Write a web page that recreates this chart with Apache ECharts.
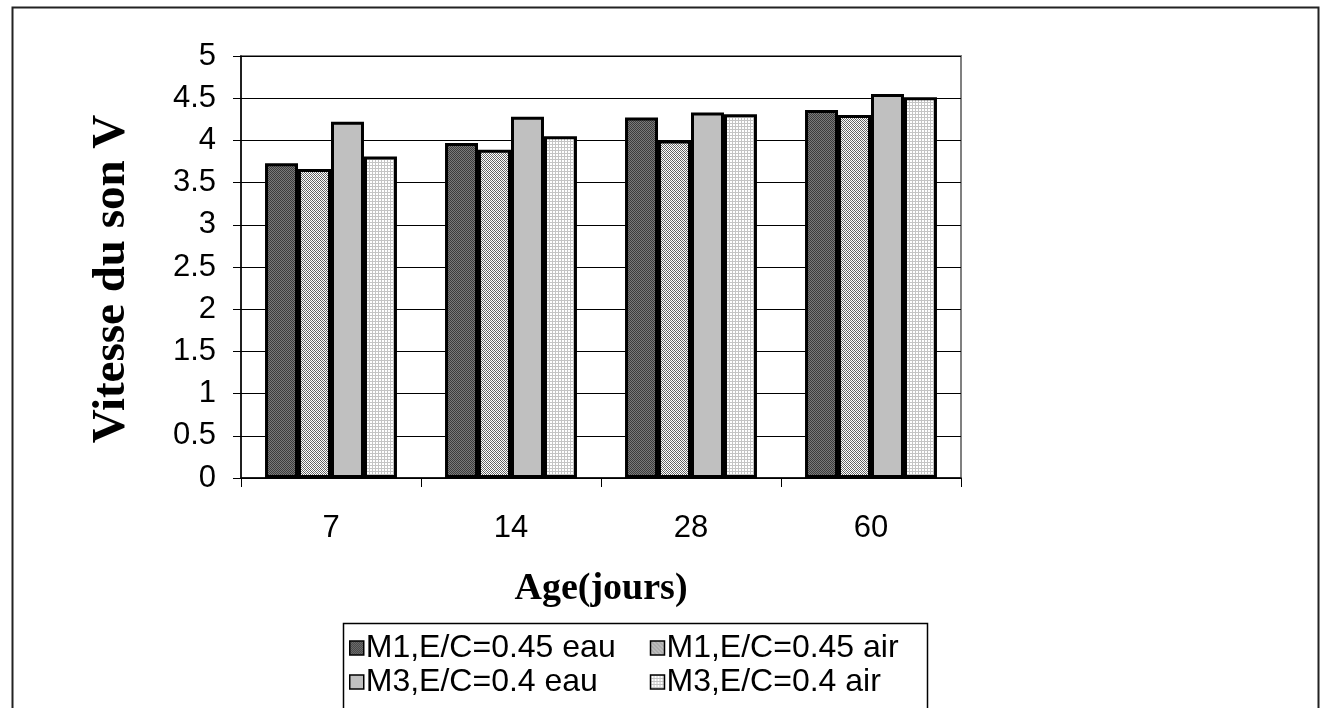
<!DOCTYPE html>
<html>
<head>
<meta charset="utf-8">
<script src="https://cdn.jsdelivr.net/npm/echarts@6/dist/echarts.min.js"></script>
<style>
html,body{margin:0;padding:0;background:#fff;}
#chart{width:1322px;height:708px;}
</style>
</head>
<body>
<div id="chart"></div>
<script>
const categories = ['7', '14', '28', '60'];
const seriesNames = ['M1,E/C=0.45 eau', 'M1,E/C=0.45 air', 'M3,E/C=0.4 eau', 'M3,E/C=0.4 air'];
const m1Eau = [3.73, 3.97, 4.27, 4.36];
const m1Air = [3.66, 3.89, 4.00, 4.30];
const m3Eau = [4.22, 4.28, 4.33, 4.55];
const m3Air = [3.81, 4.05, 4.31, 4.51];
const yTicks = { min: 0, max: 5, interval: 0.5 };

function makePattern(size, painter) {
  const c = document.createElement('canvas');
  c.width = size; c.height = size;
  const ctx = c.getContext('2d');
  painter(ctx, size);
  return { image: c, repeat: 'repeat' };
}
const patDark = makePattern(4, (ctx, s) => {
  ctx.fillStyle = '#7a7a7a'; ctx.fillRect(0, 0, s, s);
  ctx.fillStyle = '#3c3c3c';
  for (let y = 0; y < s; y++) for (let x = 0; x < s; x++) if ((x + y) % 2 === 0) ctx.fillRect(x, y, 1, 1);
});
const patDiag = makePattern(4, (ctx, s) => {
  ctx.fillStyle = '#ffffff'; ctx.fillRect(0, 0, s, s);
  ctx.fillStyle = '#7a7a7a';
  for (let y = 0; y < s; y++) for (let x = 0; x < s; x++) if ((x + y) % 2 === 0 && (x - y + 4) % 4 !== 0) ctx.fillRect(x, y, 1, 1);
  ctx.fillStyle = '#5a5a5a';
  for (let y = 0; y < s; y++) for (let x = 0; x < s; x++) if ((x - y + 4) % 4 === 0) ctx.fillRect(x, y, 1, 1);
});
const patGrid = makePattern(3, (ctx, s) => {
  ctx.fillStyle = '#ffffff'; ctx.fillRect(0, 0, s, s);
  ctx.fillStyle = '#c4c4c4';
  ctx.fillRect(0, 0, s, 1); ctx.fillRect(0, 0, 1, s);
});
const fills = [patDark, patDiag, '#c0c0c0', patGrid];
const values = [m1Eau, m1Air, m3Eau, m3Air];

const chart = echarts.init(document.getElementById('chart'), null, { renderer: 'canvas' });
const sans = '"Liberation Sans", Arial, sans-serif';
const serif = '"Liberation Serif", "Times New Roman", serif';

chart.setOption({
  animation: false,
  backgroundColor: '#ffffff',
  graphic: [
    { type: 'rect', left: 10, top: 5, shape: { width: 1306, height: 720 }, style: { fill: 'none', stroke: '#222', lineWidth: 2 }, z: -10 },
    { type: 'rect', left: 341, top: 621, shape: { width: 584, height: 86 }, style: { fill: 'none', stroke: '#000', lineWidth: 1.5 }, z: -5 }
  ],
  grid: { left: 241, right: 361, top: 56, bottom: 230, show: true, borderColor: '#808080', borderWidth: 2, backgroundColor: 'transparent' },
  legend: {
    left: 344, top: 627, width: 640,
    itemWidth: 14, itemHeight: 14, itemGap: 2,
    icon: 'rect',
    itemStyle: { borderColor: '#000', borderWidth: 1.5 },
    textStyle: { fontFamily: sans, fontSize: 32, color: '#000', width: 282, lineHeight: 25, padding: [0, 0, 0, -3] },
    data: seriesNames
  },
  xAxis: {
    type: 'category',
    data: categories,
    name: 'Age(jours)',
    nameLocation: 'middle',
    nameGap: 92,
    nameTextStyle: { fontFamily: serif, fontWeight: 'bold', fontSize: 38, color: '#000' },
    axisLine: { lineStyle: { color: '#000', width: 1.5 } },
    axisTick: { show: true, length: 9, lineStyle: { color: '#000', width: 1 } },
    axisLabel: { fontFamily: sans, fontSize: 31, color: '#000', margin: 35 },
    splitLine: { show: false }
  },
  yAxis: {
    type: 'value',
    min: yTicks.min, max: yTicks.max, interval: yTicks.interval,
    name: 'Vitesse du son V',
    nameLocation: 'middle',
    nameGap: 106,
    nameTextStyle: { fontFamily: serif, fontWeight: 'bold', fontSize: 47, color: '#000', padding: [0, 24, 0, 0] },
    axisLine: { show: true, lineStyle: { color: '#000', width: 1.5 } },
    axisTick: { show: true, length: 8, lineStyle: { color: '#000', width: 1 } },
    axisLabel: { fontFamily: sans, fontSize: 31, color: '#000', margin: 25 },
    splitLine: { show: true, lineStyle: { color: '#000', width: 1 } }
  },
  series: seriesNames.map((n, i) => ({
    name: n,
    type: 'bar',
    data: values[i],
    barGap: '0%',
    barCategoryGap: '26.7%',
    itemStyle: { color: fills[i], borderColor: '#000', borderWidth: 3 }
  }))
});
</script>
</body>
</html>
